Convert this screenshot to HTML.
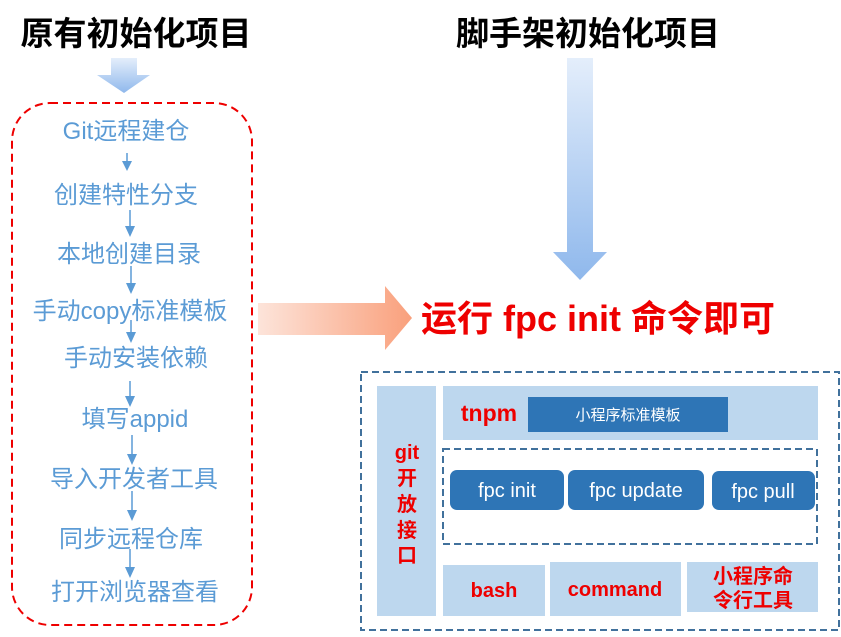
<!DOCTYPE html>
<html><head><meta charset="utf-8"><style>
html,body{margin:0;padding:0;background:#fff;}
svg text{font-family:"Liberation Sans","Noto Sans CJK SC",sans-serif;}
</style></head><body>
<svg width="841" height="632" viewBox="0 0 841 632" xmlns="http://www.w3.org/2000/svg">
<defs>
<linearGradient id="gv" x1="0" y1="0" x2="0" y2="1"><stop offset="0" stop-color="#e4eefb"/><stop offset="1" stop-color="#8fb8ec"/></linearGradient>
<linearGradient id="gh" x1="0" y1="0" x2="1" y2="0"><stop offset="0" stop-color="#fde4da"/><stop offset="1" stop-color="#f9a07c"/></linearGradient>
</defs>
<text x="136" y="45" font-size="33" font-weight="bold" text-anchor="middle" fill="#000">原有初始化项目</text>
<text x="588" y="45" font-size="33" font-weight="bold" text-anchor="middle" fill="#000">脚手架初始化项目</text>
<polygon points="111,58 137,58 137,75 150,75 124,93 97,75 111,75" fill="url(#gv)"/>
<rect x="12" y="103" width="240" height="522" rx="38" fill="none" stroke="#e00" stroke-width="2" stroke-dasharray="8,5"/>
<g font-size="24" fill="#5b9bd5" text-anchor="middle">
<text x="126" y="139">Git远程建仓</text>
<text x="126" y="203">创建特性分支</text>
<text x="129" y="262">本地创建目录</text>
<text x="130" y="319">手动copy标准模板</text>
<text x="136" y="366">手动安装依赖</text>
<text x="135" y="427">填写appid</text>
<text x="134" y="487">导入开发者工具</text>
<text x="131" y="547">同步远程仓库</text>
<text x="135" y="600">打开浏览器查看</text>
</g>
<g stroke="#5b9bd5" stroke-width="1.5" fill="#5b9bd5">
<line x1="127" y1="153" x2="127" y2="162"/><polygon points="122,161 132,161 127,171" stroke="none"/>
<line x1="130" y1="210" x2="130" y2="228"/><polygon points="125,226 135,226 130,237" stroke="none"/>
<line x1="131" y1="266" x2="131" y2="285"/><polygon points="126,283 136,283 131,294" stroke="none"/>
<line x1="131" y1="320" x2="131" y2="333"/><polygon points="126,332 136,332 131,343" stroke="none"/>
<line x1="130" y1="381" x2="130" y2="396"/><polygon points="125,396 135,396 130,407" stroke="none"/>
<line x1="132" y1="435" x2="132" y2="455"/><polygon points="127,454 137,454 132,465" stroke="none"/>
<line x1="132" y1="491" x2="132" y2="511"/><polygon points="127,510 137,510 132,521" stroke="none"/>
<line x1="130" y1="549" x2="130" y2="568"/><polygon points="125,567 135,567 130,578" stroke="none"/>
</g>
<polygon points="567,58 593,58 593,252 607,252 580,280 553,252 567,252" fill="url(#gv)"/>
<polygon points="258,303 385,303 385,286 412,318 385,350 385,335 258,335" fill="url(#gh)"/>
<text x="598" y="331" font-size="36" font-weight="bold" text-anchor="middle" fill="#e00">运行 fpc init 命令即可</text>
<rect x="361" y="372" width="478" height="258" fill="none" stroke="#41719c" stroke-width="2" stroke-dasharray="7,4"/>
<rect x="377" y="386" width="59" height="230" fill="#bdd7ee"/>
<g font-size="20" font-weight="bold" fill="#e00" text-anchor="middle">
<text x="407" y="459">git</text><text x="407" y="485">开</text><text x="407" y="511">放</text><text x="407" y="537">接</text><text x="407" y="562">口</text>
</g>
<rect x="443" y="386" width="375" height="54" fill="#bdd7ee"/>
<text x="489" y="421" font-size="23" font-weight="bold" fill="#e00" text-anchor="middle">tnpm</text>
<rect x="528" y="397" width="200" height="35" fill="#2e75b6"/>
<text x="628" y="420" font-size="15" fill="#fff" text-anchor="middle">小程序标准模板</text>
<rect x="443" y="449" width="374" height="95" fill="none" stroke="#41719c" stroke-width="2" stroke-dasharray="7,4"/>
<rect x="450" y="470" width="114" height="40" rx="7" fill="#2e75b6"/>
<rect x="568" y="470" width="136" height="40" rx="7" fill="#2e75b6"/>
<rect x="712" y="471" width="103" height="39" rx="7" fill="#2e75b6"/>
<g font-size="20" fill="#fff" text-anchor="middle">
<text x="507" y="497">fpc init</text><text x="636" y="497">fpc update</text><text x="763" y="498">fpc pull</text>
</g>
<rect x="443" y="565" width="102" height="51" fill="#bdd7ee"/>
<rect x="550" y="562" width="131" height="54" fill="#bdd7ee"/>
<rect x="687" y="562" width="131" height="50" fill="#bdd7ee"/>
<g font-size="20" font-weight="bold" fill="#e00" text-anchor="middle">
<text x="494" y="597">bash</text><text x="615" y="596">command</text>
<text x="753" y="583">小程序命</text><text x="753" y="607">令行工具</text>
</g>
</svg>
</body></html>
